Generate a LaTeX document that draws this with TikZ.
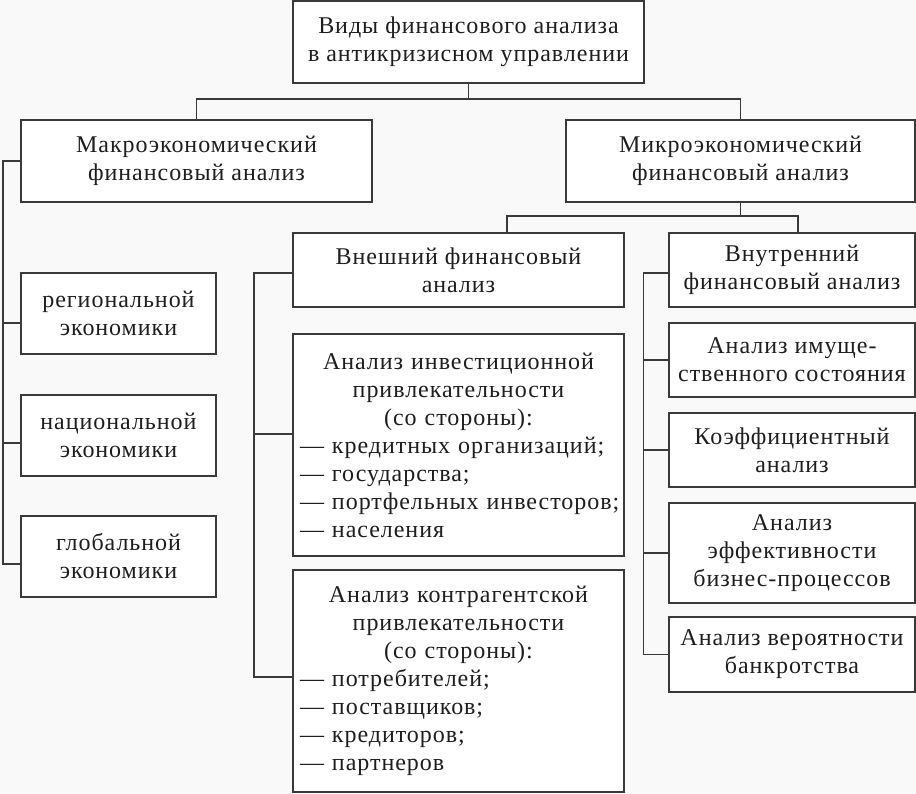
\documentclass[tikz,border=0pt]{standalone}
\usepackage{fontspec}
\setmainfont{Liberation Serif}[LetterSpace=4]
\definecolor{bg}{HTML}{F9F9F9}
\definecolor{linegray}{HTML}{3A3A3A}
\definecolor{textblack}{HTML}{1E1E1E}
\begin{document}
\begin{tikzpicture}[x=1pt,y=-1pt,line width=1.3pt]
	\tikzstyle{block}=[draw=linegray,fill=white,shape=rectangle,inner sep=0pt,align=center,text=textblack,font=\fontsize{24}{28}\selectfont]
	\tikzstyle{link}=[draw=linegray]

	\fill[bg] (0,0) rectangle (916,794);
	\useasboundingbox (0,0) rectangle (916,794);

	\node[block,minimum width=351pt,minimum height=82pt](vidy) at (468.5,42){Виды финансового анализа\\в антикризисном управлении};
	\node[block,minimum width=351pt,minimum height=82pt](macro) at (196.5,161){Макроэкономический\\финансовый анализ};
	\node[block,minimum width=349pt,minimum height=82pt](micro) at (740.5,161){Микроэкономический\\финансовый анализ};

	\node[block,minimum width=195pt,minimum height=81pt](reg) at (118.5,313.5){региональной\\экономики};
	\node[block,minimum width=195pt,minimum height=81pt](nat) at (118.5,435.5){национальной\\экономики};
	\node[block,minimum width=195pt,minimum height=81pt](glob) at (118.5,556.5){глобальной\\экономики};

	\node[block,minimum width=331pt,minimum height=74pt](vnesh) at (458.5,270){Внешний финансовый\\анализ};
	\node[block,minimum width=331pt,minimum height=222pt,text width=323pt,align=left](invest) at (458.5,445){\centering Анализ инвестиционной\\привлекательности\\(со стороны):\par\raggedright\hspace*{3pt}— кредитных организаций;\\\hspace*{3pt}— государства;\\\hspace*{3pt}— портфельных инвесторов;\\\hspace*{3pt}— населения};
	\node[block,minimum width=331pt,minimum height=222pt,text width=323pt,align=left](kontr) at (458.5,681){\centering Анализ контрагентской\\привлекательности\\(со стороны):\par\raggedright\hspace*{3pt}— потребителей;\\\hspace*{3pt}— поставщиков;\\\hspace*{3pt}— кредиторов;\\\hspace*{3pt}— партнеров};

	\node[block,minimum width=246pt,minimum height=74pt](vnutr) at (792,270){Внутренний\\финансовый анализ};
	\node[block,minimum width=246pt,minimum height=74pt](imush) at (792,360){Анализ имуще-\\ственного состояния};
	\node[block,minimum width=246pt,minimum height=74pt](koef) at (792,450){Коэффициентный\\анализ};
	\node[block,minimum width=246pt,minimum height=100pt](effekt) at (792,553){Анализ\\эффективности\\бизнес-процессов};
	\node[block,minimum width=246pt,minimum height=75pt](bankrot) at (792,654.5){Анализ вероятности\\банкротства};

	% top level
	\coordinate (topj) at (468.5,99);
	\draw[link] (vidy) -- (topj);
	\draw[link] (macro.north) |- (topj) -| (micro.north);

	% micro level
	\coordinate (microj) at (740.5,216);
	\draw[link] (micro) -- (microj);
	\draw[link] ([xshift=48.5pt]vnesh.north) |- (microj) -| ([xshift=6pt]vnutr.north);

	% macro bus
	\coordinate (macrobus) at (3,161);
	\draw[link] (macro) -- (macrobus) |- ([yshift=-7.5pt]glob.west);
	\draw[link] (macrobus) |- ([yshift=-9.5pt]reg.west);
	\draw[link] (macrobus) |- ([yshift=-7.5pt]nat.west);

	% external bus
	\coordinate (vneshbus) at (254,273);
	\draw[link] ([yshift=-3pt]vnesh.west) -- (vneshbus) |- ([yshift=4pt]kontr.west);
	\draw[link] (vneshbus) |- ([yshift=11pt]invest.west);

	% internal bus
	\coordinate (vnutrbus) at (643.5,273);
	\draw[link] ([yshift=-3pt]vnutr.west) -- (vnutrbus) |- (bankrot.west);
	\draw[link] (vnutrbus) |- (imush.west);
	\draw[link] (vnutrbus) |- (koef.west);
	\draw[link] (vnutrbus) |- (effekt.west);
\end{tikzpicture}
\end{document}
